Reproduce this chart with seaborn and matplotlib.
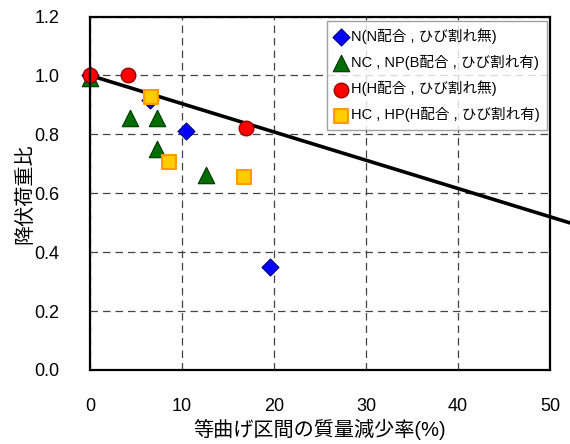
import matplotlib
matplotlib.use("Agg")
import matplotlib.pyplot as plt
import seaborn as sns

# data
n_x = [0.0, 6.5, 10.4, 19.6]
n_y = [1.0, 0.917, 0.812, 0.351]
nc_x = [0.0, 4.35, 7.25, 7.25, 12.6]
nc_y = [0.99, 0.854, 0.855, 0.749, 0.662]
h_x = [0.0, 4.1, 16.9]
h_y = [1.0, 1.0, 0.822]
hc_x = [6.6, 8.6, 16.7]
hc_y = [0.926, 0.707, 0.656]
line_x = [0.0, 52.2]
line_y = [1.0, 0.499]

labels = ["N(N配合 , ひび割れ無)", "NC , NP(B配合 , ひび割れ有)",
          "H(H配合 , ひび割れ無)", "HC , HP(H配合 , ひび割れ有)"]
x_ticks = [0, 10, 20, 30, 40, 50]
y_ticks = [0.0, 0.2, 0.4, 0.6, 0.8, 1.0, 1.2]

sns.set_style("white")
plt.rcParams['font.family'] = ['Liberation Sans', 'Noto Sans CJK JP']
plt.rcParams['text.color'] = 'black'

fig = plt.figure(figsize=(5.7, 4.44), dpi=100)
ax = fig.add_axes([0.158, 0.1667, 0.807, 0.7961])

sns.lineplot(x=line_x, y=line_y, color="black", linewidth=2.6, ax=ax, zorder=2)
for ln in ax.lines:
    ln.set_clip_on(False)

groups = [
    (n_x, n_y, "D", 75, "#0000FF", "#000080", 0.8),
    (nc_x, nc_y, "^", 140, "#006E00", "#003300", 0.8),
    (h_x, h_y, "o", 110, "#FF0000", "#990000", 1.0),
    (hc_x, hc_y, "s", 105, "#FFCC00", "#FF9900", 1.5),
]
for (gx, gy, mk, sz, fc, ec, lw), lab in zip(groups, labels):
    sns.scatterplot(x=gx, y=gy, marker=mk, s=sz, color=fc, edgecolor=ec,
                    linewidth=lw, label=lab, ax=ax, zorder=3, clip_on=False)

ax.set_xlim(0, 50)
ax.set_ylim(0, 1.2)
ax.set_xticks(x_ticks)
ax.set_yticks(y_ticks)
ax.set_xticklabels([str(t) for t in x_ticks])
ax.set_yticklabels([f"{t:.1f}" for t in y_ticks])
ax.tick_params(axis="both", length=0, labelsize=13, colors="black")
ax.tick_params(axis="x", pad=20)
ax.tick_params(axis="y", pad=22)

ax.grid(True, color="#444444", linestyle=(0, (6, 4)), linewidth=0.9)
for s in ax.spines.values():
    s.set_color("black")
    s.set_linewidth(1.6)
    s.set_zorder(4)

ax.set_xlabel("等曲げ区間の質量減少率(%)", fontsize=14.5, labelpad=3, color="black")
ax.set_ylabel("降伏荷重比", fontsize=14.5, color="black")
ax.yaxis.set_label_coords(-0.12, 0.5)

leg = ax.legend(loc="upper right", bbox_to_anchor=(0.993, 0.988), fontsize=10.5,
                frameon=True, fancybox=False, edgecolor="#888888",
                handlelength=0.8, handletextpad=0.3, borderpad=0.5,
                labelspacing=0.75, borderaxespad=0)
leg.get_frame().set_linewidth(1.0)
for t in leg.get_texts():
    t.set_color("black")

fig.savefig("out.png", dpi=100)
